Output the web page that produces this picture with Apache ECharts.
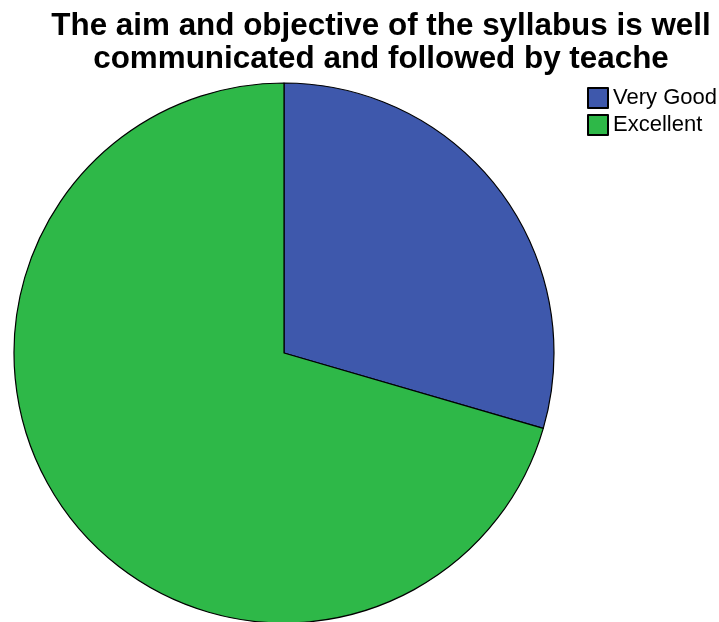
<!DOCTYPE html>
<html>
<head>
<meta charset="utf-8">
<script src="https://cdn.jsdelivr.net/npm/echarts@6/dist/echarts.min.js"></script>
<style>html,body{margin:0;padding:0;background:#fff;}#c{width:719px;height:622px;}</style>
</head>
<body>
<div id="c"></div>
<script>
const categories = ["Very Good", "Excellent"];
const values = [29.5, 70.5];
const colors = ["#3E58AC", "#2EB848"];
const titleText = "The aim and objective of the syllabus is well\ncommunicated and followed by teache";

const chart = echarts.init(document.getElementById('c'), null, {renderer: 'canvas'});
chart.setOption({
  animation: false,
  backgroundColor: '#ffffff',
  title: {
    text: titleText,
    left: 381,
    top: 10,
    padding: 0,
    textAlign: 'center',
    textStyle: {
      fontFamily: 'Liberation Sans, Arial, sans-serif',
      fontWeight: 'bold',
      fontSize: 31.4,
      lineHeight: 33,
      color: '#000'
    }
  },
  legend: {
    orient: 'vertical',
    left: 587,
    top: 87,
    padding: 0,
    itemWidth: 20,
    itemHeight: 20,
    itemGap: 5,
    icon: 'rect',
    textStyle: {
      fontFamily: 'Liberation Sans, Arial, sans-serif',
      fontSize: 22,
      lineHeight: 20,
      color: '#000'
    },
    data: categories
  },
  series: [{
    type: 'pie',
    center: [284, 353],
    radius: 270,
    startAngle: 90,
    clockwise: true,
    label: {show: false},
    labelLine: {show: false},
    emphasis: {disabled: true},
    itemStyle: {borderColor: '#000', borderWidth: 1.2},
    data: categories.map((c, i) => ({name: c, value: values[i], itemStyle: {color: colors[i]}}))
  }]
});
</script>
</body>
</html>
